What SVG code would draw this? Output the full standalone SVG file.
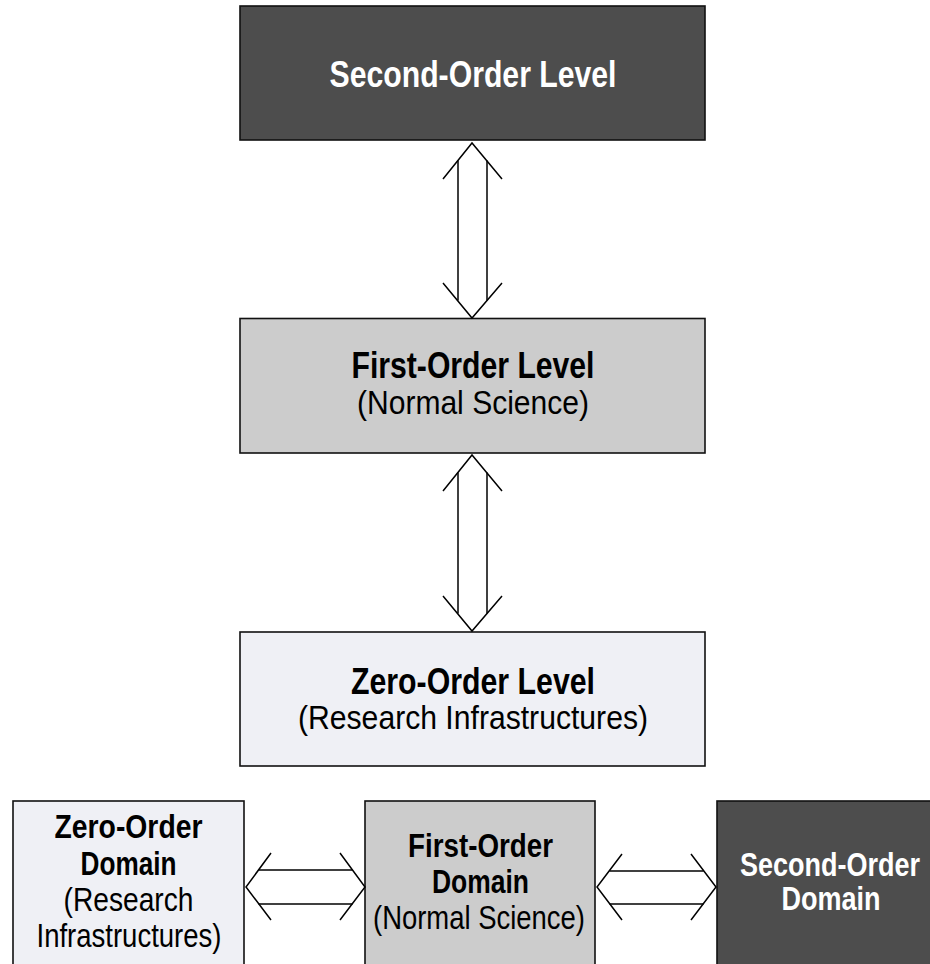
<svg xmlns="http://www.w3.org/2000/svg" width="930" height="964" viewBox="0 0 930 964">
  <defs>
    <style>
      .box { stroke: #111; stroke-width: 1.6; }
      .dark { fill: #4d4d4d; }
      .mid { fill: #cccccc; }
      .light { fill: #eff0f5; }
      .t { font-family: "Liberation Sans", Arial, Helvetica, sans-serif; text-anchor: middle; }
      .b { font-weight: bold; }
      .w { fill: #ffffff; }
      .k { fill: #000000; }
      .big { font-size: 37px; }
      .reg { font-size: 34px; }
      .sm { font-size: 33px; }
      .arrow { fill: none; stroke: #000; stroke-width: 1.5; stroke-linejoin: miter; }
    </style>
  </defs>
  <rect width="930" height="964" fill="#ffffff"/>

  <!-- Vertical stack of levels -->
  <g id="second-order-level">
    <rect class="box dark" x="240" y="6" width="465" height="134"/>
    <text class="t b w big" x="473" y="87" textLength="287" lengthAdjust="spacingAndGlyphs">Second-Order Level</text>
  </g>

  <g id="first-order-level">
    <rect class="box mid" x="240" y="318.5" width="465" height="134.5"/>
    <text class="t b k big" x="473" y="378" textLength="243" lengthAdjust="spacingAndGlyphs">First-Order Level</text>
    <text class="t k reg" x="473" y="414" textLength="232" lengthAdjust="spacingAndGlyphs">(Normal Science)</text>
  </g>

  <g id="zero-order-level">
    <rect class="box light" x="240" y="632" width="465" height="134"/>
    <text class="t b k big" x="473" y="694" textLength="244" lengthAdjust="spacingAndGlyphs">Zero-Order Level</text>
    <text class="t k reg" x="473" y="729" textLength="350" lengthAdjust="spacingAndGlyphs">(Research Infrastructures)</text>
  </g>

  <!-- Row of domains -->
  <g id="zero-order-domain">
    <rect class="box light" x="13" y="801" width="231" height="200"/>
    <text class="t b k sm" x="128.5" y="838" textLength="148" lengthAdjust="spacingAndGlyphs">Zero-Order</text>
    <text class="t b k sm" x="128.5" y="875" textLength="96" lengthAdjust="spacingAndGlyphs">Domain</text>
    <text class="t k sm" x="128.5" y="911" textLength="130" lengthAdjust="spacingAndGlyphs">(Research</text>
    <text class="t k sm" x="129" y="947" textLength="185" lengthAdjust="spacingAndGlyphs">Infrastructures)</text>
  </g>

  <g id="first-order-domain">
    <rect class="box mid" x="365" y="801" width="230" height="200"/>
    <text class="t b k sm" x="480.5" y="857" textLength="145" lengthAdjust="spacingAndGlyphs">First-Order</text>
    <text class="t b k sm" x="480.5" y="893" textLength="97" lengthAdjust="spacingAndGlyphs">Domain</text>
    <text class="t k sm" x="479" y="929" textLength="212" lengthAdjust="spacingAndGlyphs">(Normal Science)</text>
  </g>

  <g id="second-order-domain">
    <rect class="box dark" x="717" y="801" width="214" height="200"/>
    <text class="t b w sm" x="830" y="876" textLength="180" lengthAdjust="spacingAndGlyphs">Second-Order</text>
    <text class="t b w sm" x="831" y="910" textLength="99" lengthAdjust="spacingAndGlyphs">Domain</text>
  </g>

  <!-- Two-way hollow arrows -->
  <g id="connectors">
    <!-- second-order level <-> first-order level -->
    <g class="arrow">
      <polyline points="443,179 472,143 502,179"/>
      <polyline points="443,283 472,318 502,283"/>
      <line x1="458" y1="160.5" x2="458" y2="300.5"/>
      <line x1="487" y1="160.5" x2="487" y2="300.5"/>
    </g>
    <!-- first-order level <-> zero-order level -->
    <g class="arrow">
      <polyline points="443,491 472,455 502,491"/>
      <polyline points="443,596 472,631 502,596"/>
      <line x1="458" y1="472.5" x2="458" y2="613.5"/>
      <line x1="487" y1="472.5" x2="487" y2="613.5"/>
    </g>
    <!-- zero-order domain <-> first-order domain -->
    <g class="arrow">
      <polyline points="271,853 246,887 271,920"/>
      <polyline points="340,853 365,887 340,920"/>
      <line x1="258.5" y1="870" x2="352.5" y2="870"/>
      <line x1="258.5" y1="904" x2="352.5" y2="904"/>
    </g>
    <!-- first-order domain <-> second-order domain -->
    <g class="arrow">
      <polyline points="622,854 597,887 622,920"/>
      <polyline points="691,854 716,887 691,920"/>
      <line x1="609.5" y1="871" x2="703.5" y2="871"/>
      <line x1="609.5" y1="904" x2="703.5" y2="904"/>
    </g>
  </g>
</svg>
